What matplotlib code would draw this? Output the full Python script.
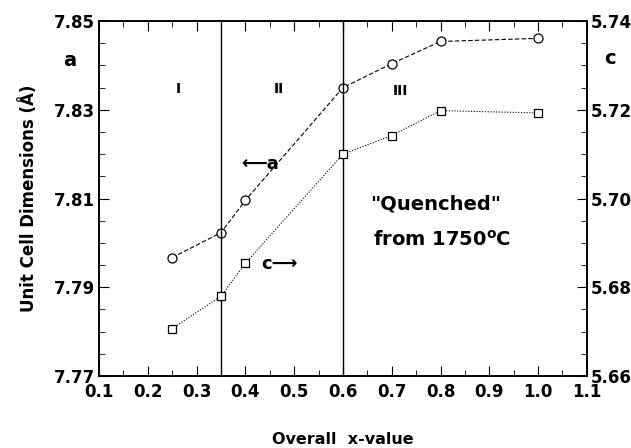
import matplotlib.pyplot as plt
from matplotlib.ticker import MultipleLocator, FixedLocator

plt.rcParams['font.family'] = ['DejaVu Sans']
plt.rcParams['font.weight'] = 'bold'

x_vals = [0.25, 0.35, 0.40, 0.60, 0.70, 0.80, 1.00]
a_vals = [7.7967, 7.8023, 7.8096, 7.8350, 7.8404, 7.8454, 7.8461]
c_vals = [5.6707, 5.6780, 5.6854, 5.7100, 5.7142, 5.7198, 5.7193]
boundaries = [0.35, 0.60]
a_ticks = [7.77, 7.79, 7.81, 7.83, 7.85]
c_ticks = [5.66, 5.68, 5.70, 5.72, 5.74]

fig = plt.figure(figsize=(6.31, 4.48), dpi=100)
ax = fig.add_axes([0.157, 0.1607, 0.773, 0.7923])
ax2 = ax.twinx()

ax.plot(x_vals, a_vals, color='black', linestyle=(0, (4, 2)), linewidth=0.8,
        marker='o', markersize=6.5, markerfacecolor='white', markeredgecolor='black',
        markeredgewidth=0.9)
ax2.plot(x_vals, c_vals, color='black', linestyle=(0, (1, 1.5)), linewidth=0.8,
         marker='s', markersize=5.8, markerfacecolor='white', markeredgecolor='black',
         markeredgewidth=0.9)
for b in boundaries:
    ax.axvline(b, color='black', linewidth=1.0)

ax.set_xlim(0.1, 1.1)
ax.set_ylim(7.77, 7.85)
ax2.set_ylim(5.66, 5.74)

ax.xaxis.set_major_locator(MultipleLocator(0.1))
ax.xaxis.set_minor_locator(MultipleLocator(0.05))
ax.yaxis.set_major_locator(FixedLocator(a_ticks))
ax.yaxis.set_minor_locator(MultipleLocator(0.005))
ax2.yaxis.set_major_locator(FixedLocator(c_ticks))
ax2.yaxis.set_minor_locator(MultipleLocator(0.005))

for s in ax.spines.values():
    s.set_linewidth(1.2)
for s in ax2.spines.values():
    s.set_linewidth(1.2)

ax.tick_params(axis='x', which='both', direction='in', top=True, labelsize=12, pad=5)
ax.tick_params(axis='x', which='major', length=7)
ax.tick_params(axis='x', which='minor', length=4)
ax.tick_params(axis='y', which='both', direction='in', labelsize=12, pad=3)
ax.tick_params(axis='y', which='major', length=7)
ax.tick_params(axis='y', which='minor', length=4)
ax2.tick_params(axis='y', which='both', direction='in', labelsize=12, pad=3)
ax2.tick_params(axis='y', which='major', length=7)
ax2.tick_params(axis='y', which='minor', length=4)

ax.xaxis.set_major_formatter(lambda v, p: f'{v:.1f}')
ax.yaxis.set_major_formatter(lambda v, p: f'{v:.2f}')
ax2.yaxis.set_major_formatter(lambda v, p: f'{v:.2f}')

ax.set_ylabel('Unit Cell Dimensions (Å)', fontsize=12, fontweight='bold', labelpad=11)
ax.set_xlabel('Overall  x-value', fontsize=11.5, fontweight='bold', labelpad=22)

fig.text(0.111, 0.864, 'a', fontsize=14, fontweight='bold', ha='center', va='center')
fig.text(0.967, 0.870, 'c', fontsize=14, fontweight='bold', ha='center', va='center')

ax.text(0.262, 7.8347, 'I', fontsize=10, fontweight='bold', ha='center', va='center')
ax.text(0.469, 7.8347, 'II', fontsize=10, fontweight='bold', ha='center', va='center')
ax.text(0.717, 7.8343, 'III', fontsize=10, fontweight='bold', ha='center', va='center')
ax.text(0.43, 7.8177, '⟵a', fontsize=13, fontweight='bold', ha='center', va='center')
ax.text(0.469, 7.7952, 'c⟶', fontsize=13, fontweight='bold', ha='center', va='center')
ax.text(0.789, 7.8087, '"Quenched"', fontsize=14, fontweight='bold', ha='center', va='center')
ax.text(0.803, 7.8008, 'from 1750$^{\\mathbf{o}}$C', fontsize=14, fontweight='bold',
        ha='center', va='center')

fig.savefig('out.png', dpi=100)
